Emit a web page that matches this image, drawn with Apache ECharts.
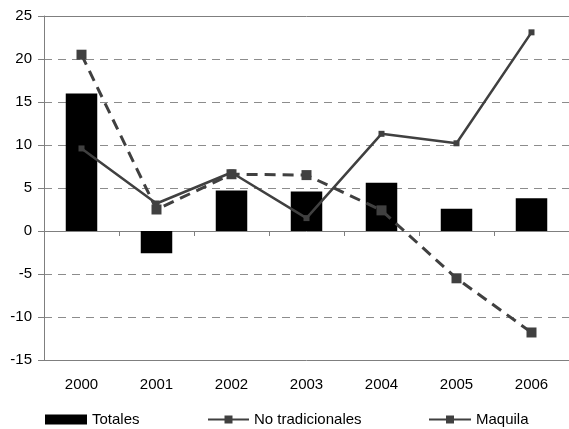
<!DOCTYPE html>
<html>
<head>
<meta charset="utf-8">
<script src="https://cdn.jsdelivr.net/npm/echarts@6/dist/echarts.min.js"></script>
<style>
  html, body { margin: 0; padding: 0; background: #fff; }
  #chart { width: 569px; height: 429px; }
</style>
</head>
<body>
<div id="chart"></div>
<script>
const years = ['2000', '2001', '2002', '2003', '2004', '2005', '2006'];
const totales = [16.0, -2.6, 4.7, 4.6, 5.6, 2.6, 3.8];
const noTradicionales = [9.6, 3.2, 6.8, 1.5, 11.3, 10.2, 23.1];
const maquila = [20.5, 2.5, 6.6, 6.5, 2.4, -5.5, -11.8];

const axisGray = '#7f7f7f';
const lineGray = '#404040';
const font = 'Liberation Sans, Arial, sans-serif';

const chart = echarts.init(document.getElementById('chart'));

const legendText = { fontSize: 15, color: '#000', fontFamily: font };

chart.setOption({
  animation: false,
  textStyle: { fontFamily: font },
  grid: { left: 44, right: -2, top: 16, bottom: 69 },
  legend: [
    {
      left: 40, top: 407,
      itemWidth: 42, itemHeight: 10,
      textStyle: legendText,
      data: [{ name: 'Totales', icon: 'rect' }],
    },
    {
      left: 202, top: 407,
      itemWidth: 41, itemHeight: 10,
      lineStyle: { type: 'solid' },
      textStyle: legendText,
      data: ['No tradicionales'],
    },
    {
      left: 423, top: 407,
      itemWidth: 42, itemHeight: 10,
      lineStyle: { type: 'solid' },
      textStyle: legendText,
      data: ['Maquila'],
    },
  ],
  xAxis: [
    {
      type: 'category',
      data: years,
      position: 'bottom',
      axisLine: { onZero: false, lineStyle: { color: axisGray, width: 1 } },
      axisTick: { show: false },
      axisLabel: { color: '#000', fontSize: 15, margin: 17 },
    },
    {
      type: 'category',
      data: years,
      position: 'bottom',
      axisLine: { onZero: true, lineStyle: { color: axisGray, width: 1 } },
      axisTick: { show: true, length: 5, lineStyle: { color: axisGray } },
      axisLabel: { show: false },
    },
    {
      type: 'category',
      data: years,
      position: 'top',
      axisLine: { onZero: false, lineStyle: { color: axisGray, width: 1 } },
      axisTick: { show: false },
      axisLabel: { show: false },
    },
  ],
  yAxis: {
    type: 'value',
    min: -15,
    max: 25,
    interval: 5,
    axisLine: { show: true, lineStyle: { color: axisGray, width: 1 } },
    axisTick: { show: true, length: 6, lineStyle: { color: axisGray } },
    axisLabel: { color: '#000', fontSize: 15, margin: 12 },
    splitLine: {
      show: true,
      lineStyle: { color: '#8c8c8c', type: [8, 6], width: 1 },
    },
  },
  series: [
    {
      name: 'Totales',
      type: 'bar',
      data: totales,
      barWidth: '42%',
      itemStyle: { color: '#000' },
    },
    {
      name: 'No tradicionales',
      type: 'line',
      data: noTradicionales,
      symbol: 'rect',
      symbolSize: 6,
      itemStyle: { color: lineGray },
      lineStyle: { color: lineGray, width: 2.5 },
      z: 3,
    },
    {
      name: 'Maquila',
      type: 'line',
      data: maquila,
      symbol: 'rect',
      symbolSize: 10,
      itemStyle: { color: lineGray },
      lineStyle: { color: lineGray, width: 3, type: [11, 7] },
      z: 4,
    },
  ],
});
</script>
</body>
</html>
